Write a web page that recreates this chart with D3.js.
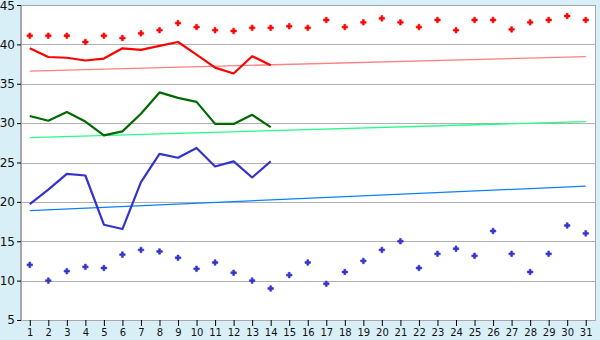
<!DOCTYPE html>
<html>
<head>
<meta charset="utf-8">
<script src="https://cdn.jsdelivr.net/npm/d3@7"></script>
<style>
  body { margin: 0; background: #d9eff7; }
  svg { display: block; }
  .axis text { font-family: "DejaVu Sans", Verdana, sans-serif; fill: #111; }
  .axis path { stroke: #a8a8a8; }
  .axis line { stroke: #000; }
</style>
</head>
<body>
<svg id="chart" width="600" height="340"></svg>
<script>
/*global d3 */

var days = [1, 2, 3, 4, 5, 6, 7, 8, 9, 10, 11, 12, 13, 14, 15, 16,
    17, 18, 19, 20, 21, 22, 23, 24, 25, 26, 27, 28, 29, 30, 31];
var yTicks = [5, 10, 15, 20, 25, 30, 35, 40, 45];

// daily maxima / minima (markers)
var redDots = [41.1, 41.1, 41.1, 40.3, 41.1, 40.8, 41.4, 41.8, 42.7, 42.2, 41.8,
    41.7, 42.1, 42.1, 42.3, 42.1, 43.1, 42.2, 42.8, 43.3, 42.8, 42.2, 43.1, 41.8,
    43.1, 43.1, 41.9, 42.8, 43.1, 43.6, 43.1];
var blueDots = [12.0, 10.0, 11.2, 11.75, 11.6, 13.3, 13.9, 13.7, 12.9, 11.5, 12.3,
    11.0, 10.0, 9.0, 10.7, 12.3, 9.6, 11.1, 12.5, 13.9, 15.0, 11.6, 13.4, 14.05,
    13.15, 16.3, 13.4, 11.1, 13.4, 17.0, 16.0];

// current month lines (days 1-14)
var redLine = [39.5, 38.4, 38.3, 37.95, 38.2, 39.5, 39.3, 39.8, 40.3, 38.7, 37.05,
    36.3, 38.5, 37.35];
var greenLine = [30.9, 30.3, 31.4, 30.2, 28.45, 28.95, 31.2, 33.9, 33.2, 32.7, 29.9,
    29.9, 31.05, 29.5];
var blueLine = [19.7, 21.55, 23.55, 23.35, 17.1, 16.55, 22.5, 26.1, 25.6, 26.85,
    24.5, 25.15, 23.1, 25.15];

// trend lines: value at day 1 and day 31
var redTrend = [36.6, 38.45];
var greenTrend = [28.15, 30.2];
var blueTrend = [18.9, 22.0];

var plotLeft = 20.5, plotRight = 595, plotTop = 5, plotBottom = 320;

var svg = d3.select('#chart');

var x = d3.scalePoint()
    .domain(days)
    .range([plotLeft, plotRight])
    .padding(0.5);

var y = d3.scaleLinear()
    .domain([5, 45])
    .range([plotBottom, plotTop]);

svg.append('rect')
    .attr('x', plotLeft)
    .attr('y', plotTop)
    .attr('width', plotRight - plotLeft)
    .attr('height', plotBottom - plotTop)
    .attr('fill', '#fff')
    .attr('stroke', '#a8a8a8')
    .attr('shape-rendering', 'crispEdges');

// grid
svg.append('g')
    .selectAll('line')
    .data(yTicks.slice(1, -1))
    .join('line')
    .attr('x1', plotLeft)
    .attr('x2', plotRight)
    .attr('y1', function (d) { return Math.round(y(d)) + 0.5; })
    .attr('y2', function (d) { return Math.round(y(d)) + 0.5; })
    .attr('stroke', '#b0b0b0');

var $yAxis = svg.append('g')
    .classed('axis', true)
    .attr('transform', 'translate(' + Math.round(plotLeft) + ',0)')
    .call(d3.axisLeft(y).tickValues(yTicks).tickSize(4).tickPadding(2).tickSizeOuter(0));
$yAxis.selectAll('text').style('font-size', '12px');
$yAxis.selectAll('.tick')
    .filter(function (d) { return d === 45; })
    .select('text')
    .attr('dy', '0.4em');

var $xAxis = svg.append('g')
    .classed('axis', true)
    .attr('transform', 'translate(0,' + plotBottom + ')')
    .call(d3.axisBottom(x).tickSize(6).tickPadding(3).tickSizeOuter(0));
$xAxis.selectAll('text').style('font-size', '10px');

function trend(vals, color) {
    svg.append('line')
        .attr('x1', x(days[0]))
        .attr('x2', x(days[days.length - 1]))
        .attr('y1', y(vals[0]))
        .attr('y2', y(vals[1]))
        .attr('stroke', color)
        .attr('stroke-width', 1.3);
}
trend(redTrend, '#ff8080');
trend(greenTrend, '#22ff88');
trend(blueTrend, '#0a80ff');

var line = d3.line()
    .x(function (d, i) { return x(days[i]); })
    .y(function (d) { return y(d); });

function series(vals, color) {
    svg.append('path')
        .datum(vals)
        .attr('d', line)
        .attr('fill', 'none')
        .attr('stroke', color)
        .attr('stroke-width', 2.2)
        .attr('stroke-linejoin', 'round');
}
series(redLine, '#ff0000');
series(greenLine, '#006a00');
series(blueLine, '#3333cc');

var marker = d3.symbol().type(d3.symbolCross).size(17);

function dots(vals, color) {
    svg.append('g')
        .selectAll('path')
        .data(vals)
        .join('path')
        .attr('transform', function (d, i) {
            return 'translate(' + x(days[i]) + ',' + y(d) + ')';
        })
        .attr('d', marker)
        .attr('fill', color)
        .attr('stroke', color)
        .attr('stroke-width', 0.6);
}
dots(redDots, '#ff0000');
dots(blueDots, '#3333cc');
</script>
</body>
</html>
